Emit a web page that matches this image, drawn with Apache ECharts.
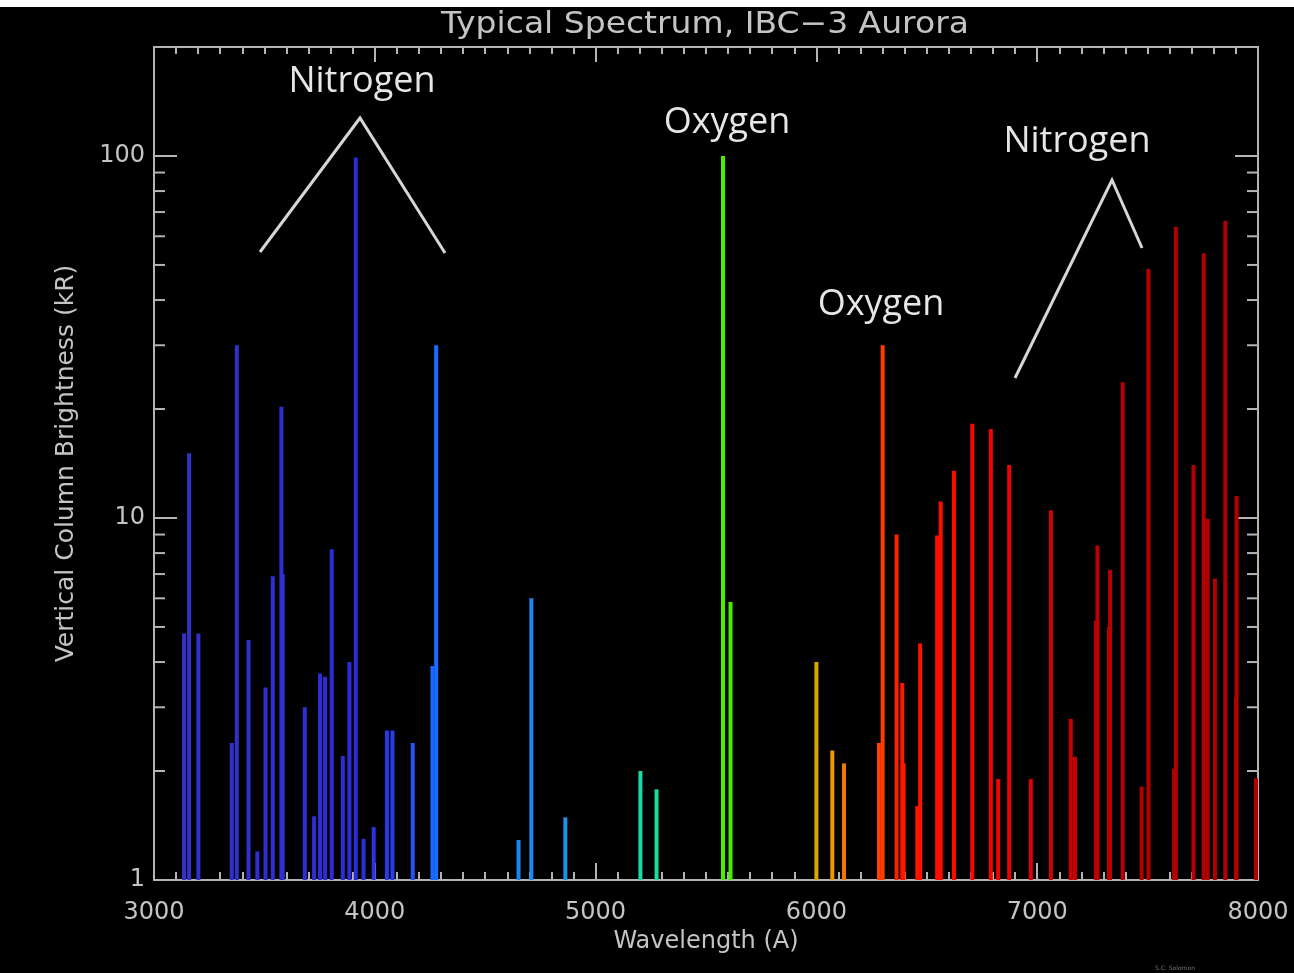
<!DOCTYPE html>
<html>
<head>
<meta charset="utf-8">
<title>Typical Spectrum, IBC-3 Aurora</title>
<script src="https://cdn.jsdelivr.net/npm/echarts@6/dist/echarts.min.js"></script>
<style>
  html, body { margin: 0; padding: 0; background: #000; }
  #chart { width: 1294px; height: 973px; }
</style>
</head>
<body>
<div id="chart"></div>
<script>
// Emission line wavelengths (Angstrom) and vertical column brightness (kR)
const wavelengths = [
  3136, 3159, 3201, 3352, 3375, 3428, 3468, 3505, 3538, 3577, 3583,
  3683, 3725, 3752, 3775, 3805, 3855, 3885, 3914, 3949, 3995,
  4055, 4080, 4172, 4261, 4278,
  4651, 4709, 4863, 5203, 5276, 5577, 5611,
  6000, 6072, 6125, 6283, 6300, 6363, 6389, 6395, 6457, 6470,
  6547, 6563, 6623, 6706, 6790, 6823, 6873, 6971, 7062, 7152, 7171,
  7266, 7273, 7325, 7330, 7387, 7473, 7504, 7620, 7628, 7708,
  7754, 7772, 7805, 7852, 7900, 7903, 7991
];
const brightness = [
  4.8, 15.1, 4.8, 2.39, 30, 4.6, 1.2, 3.4, 6.9, 20.3, 7.0,
  3.0, 1.5, 3.72, 3.64, 8.2, 2.2, 4.0, 99, 1.3, 1.4,
  2.59, 2.59, 2.39, 3.9, 30,
  1.29, 6.0, 1.49, 2.0, 1.78, 100, 5.86,
  4.0, 2.28, 2.1, 2.39, 30, 9.0, 3.5, 2.1, 1.6, 4.5,
  8.95, 11.1, 13.5, 18.2, 17.6, 1.9, 14.0, 1.9, 10.5, 2.79, 2.19,
  5.2, 8.4, 5.0, 7.2, 23.7, 1.81, 48.7, 2.03, 63.8, 14.0,
  53.9, 9.95, 6.8, 66.2, 3.2, 11.5, 1.91
];

// Axis extents and tick values
const X_MIN = 3000, X_MAX = 8000, X_STEP = 1000;
const Y_MIN = 1, Y_MAX = 200;
const yLabelTicks = [1, 10, 100];
const yMinorTicks = [2, 3, 4, 5, 6, 7, 8, 9, 20, 30, 40, 50, 60, 70, 80, 90];

// Text
const titleText = 'Typical Spectrum, IBC\u22123 Aurora';
const xAxisTitle = 'Wavelength (A)';
const yAxisTitle = 'Vertical Column Brightness (kR)';

// Colour ramp across the visible spectrum: [wavelength, r, g, b]
const colorStops = [
  [3100, 50, 50, 200], [3950, 44, 44, 216], [4100, 40, 64, 238],
  [4280, 24, 108, 255], [4700, 26, 136, 240], [4900, 26, 150, 232],
  [5200, 30, 214, 168], [5300, 32, 220, 144], [5577, 68, 240, 0],
  [5620, 72, 236, 0], [6000, 216, 168, 0], [6072, 238, 152, 0],
  [6125, 240, 120, 0], [6290, 255, 64, 0], [6380, 255, 24, 0],
  [6600, 255, 10, 0], [6900, 236, 0, 0], [7100, 210, 0, 0],
  [7300, 184, 0, 0], [8000, 176, 0, 0]
];
function spectrumColor(w) {
  if (w <= colorStops[0][0]) return rgb(colorStops[0]);
  for (let i = 1; i < colorStops.length; i++) {
    const a = colorStops[i - 1], b = colorStops[i];
    if (w <= b[0]) {
      const t = (w - a[0]) / (b[0] - a[0]);
      return rgb([0, a[1] + (b[1] - a[1]) * t, a[2] + (b[2] - a[2]) * t, a[3] + (b[3] - a[3]) * t]);
    }
  }
  return rgb(colorStops[colorStops.length - 1]);
}
function rgb(s) { return 'rgb(' + Math.round(s[1]) + ',' + Math.round(s[2]) + ',' + Math.round(s[3]) + ')'; }

const AXIS_COLOR = '#b4b4b4';
const TEXT_COLOR = '#c4c4c4';
const NOTE_COLOR = '#e6e6e6';
const AXIS_FONT = 'DejaVu Sans';
const NOTE_FONT = 'Open Sans';

const chart = echarts.init(document.getElementById('chart'), null, { renderer: 'canvas' });

const xAxisCommon = {
  type: 'value', min: X_MIN, max: X_MAX, interval: X_STEP,
  axisLine: { show: true, onZero: false, lineStyle: { color: AXIS_COLOR, width: 2 } },
  splitLine: { show: false }
};
const yAxisCommon = {
  type: 'log', logBase: 10, min: Y_MIN, max: Y_MAX,
  axisLine: { show: true, onZero: false, lineStyle: { color: AXIS_COLOR, width: 2 } },
  axisTick: { show: true, inside: true, length: 23, lineStyle: { color: AXIS_COLOR, width: 2 } },
  splitLine: { show: false },
  minorTick: { show: false }
};

chart.setOption({
  backgroundColor: '#000',
  animation: false,
  grid: { left: 154, right: 36, top: 47, bottom: 93, containLabel: false },
  xAxis: [
    Object.assign({}, xAxisCommon, {
      position: 'bottom',
      axisTick: { show: true, inside: true, length: 17, lineStyle: { color: AXIS_COLOR, width: 2 } },
      minorTick: { show: true, splitNumber: 10, length: 8, lineStyle: { color: AXIS_COLOR, width: 2 } },
      axisLabel: { color: TEXT_COLOR, fontSize: 24, fontFamily: AXIS_FONT, margin: 21, formatter: v => String(v) },
      name: xAxisTitle, nameLocation: 'middle', nameGap: 50,
      nameTextStyle: { color: TEXT_COLOR, fontSize: 24, fontFamily: AXIS_FONT }
    }),
    Object.assign({}, xAxisCommon, {
      position: 'top',
      axisTick: { show: true, inside: true, length: 15, lineStyle: { color: AXIS_COLOR, width: 2 } },
      minorTick: { show: true, splitNumber: 10, length: 7, lineStyle: { color: AXIS_COLOR, width: 2 } },
      axisLabel: { show: false }
    })
  ],
  yAxis: [
    Object.assign({}, yAxisCommon, {
      position: 'left',
      axisLabel: {
        color: TEXT_COLOR, fontSize: 24, fontFamily: AXIS_FONT, margin: 9,
        formatter: v => {
          const r = Math.round(v);
          return yLabelTicks.indexOf(r) >= 0 && Math.abs(v - r) < 1e-6 * r ? String(r) : '';
        }
      },
      name: yAxisTitle, nameLocation: 'middle', nameGap: 75, nameRotate: 90,
      nameTextStyle: { color: TEXT_COLOR, fontSize: 25, fontFamily: AXIS_FONT }
    }),
    Object.assign({}, yAxisCommon, { position: 'right', axisLabel: { show: false } })
  ],
  series: [
    {
      // log-decade minor ticks on both vertical edges
      type: 'custom',
      xAxisIndex: 0, yAxisIndex: 0,
      silent: true,
      data: yMinorTicks.map(v => [X_MIN, v]),
      renderItem: (params, api) => {
        const v = api.value(1);
        const l = api.coord([X_MIN, v]);
        const r = api.coord([X_MAX, v]);
        const st = { stroke: AXIS_COLOR, lineWidth: 2 };
        return {
          type: 'group',
          children: [
            { type: 'line', shape: { x1: l[0], y1: l[1], x2: l[0] + 11, y2: l[1] }, style: st },
            { type: 'line', shape: { x1: r[0], y1: r[1], x2: r[0] - 11, y2: r[1] }, style: st }
          ]
        };
      }
    },
    {
      // emission lines
      type: 'custom',
      xAxisIndex: 0, yAxisIndex: 0,
      clip: true,
      data: wavelengths.map((w, i) => [w, brightness[i]]),
      renderItem: (params, api) => {
        const w = api.value(0), b = api.value(1);
        const top = api.coord([w, b]);
        const base = api.coord([w, Y_MIN]);
        return {
          type: 'rect',
          shape: { x: top[0] - 2, y: top[1], width: 4, height: base[1] - top[1] },
          style: { fill: spectrumColor(w) }
        };
      }
    }
  ],
  graphic: [
    // light strip along the upper edge of the page
    { type: 'rect', shape: { x: 0, y: 0, width: 1294, height: 7 }, style: { fill: '#ffffff' } },
    {
      type: 'text', x: 705, y: 25, scaleX: 1.1,
      style: { text: titleText, fill: TEXT_COLOR, font: '30px "' + AXIS_FONT + '"', textAlign: 'center', textVerticalAlign: 'middle' }
    },
    // species annotations
    { type: 'text', x: 362, y: 82, style: { text: 'Nitrogen', fill: NOTE_COLOR, font: '36px "' + NOTE_FONT + '"', textAlign: 'center', textVerticalAlign: 'middle' } },
    { type: 'text', x: 727, y: 123, style: { text: 'Oxygen', fill: NOTE_COLOR, font: '36px "' + NOTE_FONT + '"', textAlign: 'center', textVerticalAlign: 'middle' } },
    { type: 'text', x: 881, y: 305, style: { text: 'Oxygen', fill: NOTE_COLOR, font: '36px "' + NOTE_FONT + '"', textAlign: 'center', textVerticalAlign: 'middle' } },
    { type: 'text', x: 1077, y: 142, style: { text: 'Nitrogen', fill: NOTE_COLOR, font: '36px "' + NOTE_FONT + '"', textAlign: 'center', textVerticalAlign: 'middle' } },
    { type: 'polyline', shape: { points: [[260, 252], [360, 118], [445, 253]] }, style: { stroke: '#d6d6d6', lineWidth: 3, fill: null } },
    { type: 'polyline', shape: { points: [[1015, 378], [1112, 180], [1142, 248]] }, style: { stroke: '#d6d6d6', lineWidth: 3, fill: null } },
    { type: 'text', x: 1175, y: 968, style: { text: 'S.C. Solomon', fill: '#777', font: '6px "' + AXIS_FONT + '"', textAlign: 'center', textVerticalAlign: 'middle' } }
  ]
});
</script>
</body>
</html>
